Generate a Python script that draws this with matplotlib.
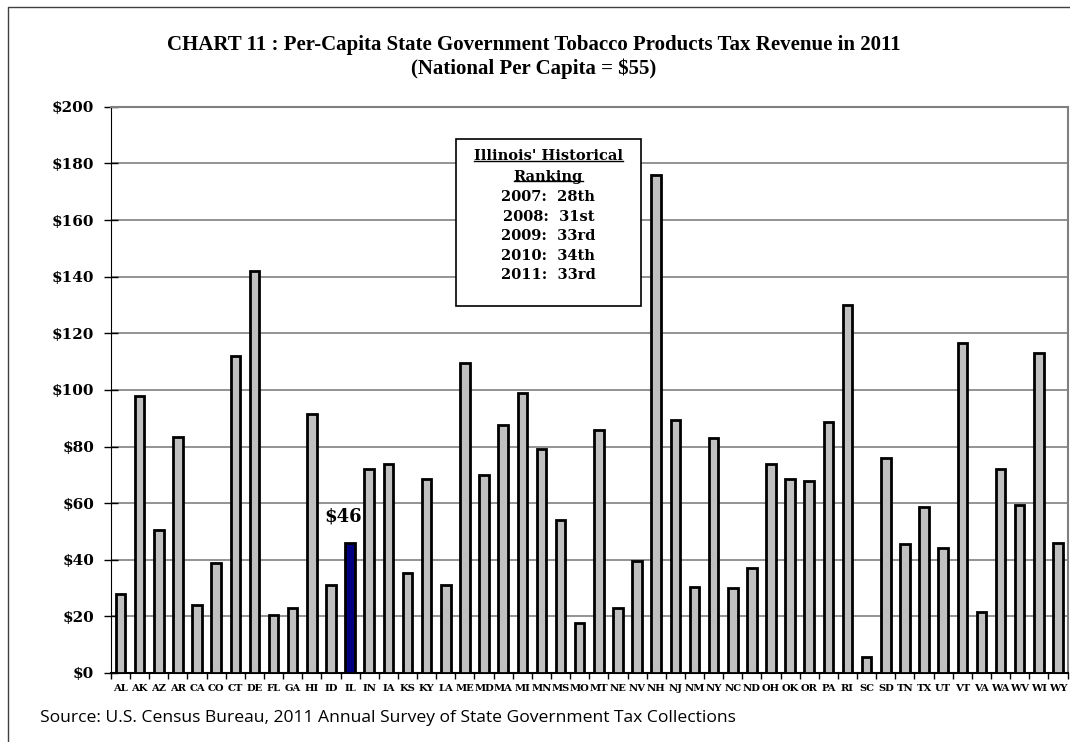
import numpy as np
import matplotlib.pyplot as plt
from matplotlib.lines import Line2D

states = ['AL', 'AK', 'AZ', 'AR', 'CA', 'CO', 'CT', 'DE', 'FL', 'GA', 'HI', 'ID', 'IL', 'IN', 'IA',
          'KS', 'KY', 'LA', 'ME', 'MD', 'MA', 'MI', 'MN', 'MS', 'MO', 'MT', 'NE', 'NV', 'NH', 'NJ',
          'NM', 'NY', 'NC', 'ND', 'OH', 'OK', 'OR', 'PA', 'RI', 'SC', 'SD', 'TN', 'TX', 'UT', 'VT',
          'VA', 'WA', 'WV', 'WI', 'WY']
per_capita = [28, 98, 50.5, 83.5, 24, 39, 112, 142, 20.5, 23, 91.5, 31, 46, 72, 74,
              35.5, 68.5, 31, 109.5, 70, 87.5, 99, 79, 54, 17.5, 86, 23, 39.5, 176, 89.5,
              30.5, 83, 30, 37, 74, 68.5, 68, 88.5, 130, 5.5, 76, 45.5, 58.5, 44, 116.5,
              21.5, 72, 59.5, 113, 46]
highlight = 'IL'
ranking_lines = ['2007:  28th', '2008:  31st', '2009:  33rd', '2010:  34th', '2011:  33rd']

serif = ['DejaVu Serif']
title_font = ['Liberation Serif', 'DejaVu Serif']

fig = plt.figure(figsize=(10.7, 7.42), dpi=100)
ax = fig.add_axes([0.1037, 0.093, 0.894, 0.763])

x = np.arange(len(states))
colors = ['#000080' if s == highlight else '#C0C0C0' for s in states]
ax.bar(x, per_capita, width=0.5, color=colors, edgecolor='black', linewidth=2, zorder=3)

ax.set_xlim(-0.5, len(states) - 0.5)
ax.set_ylim(0, 200)
ax.set_yticks(np.arange(0, 201, 20))
ax.set_yticklabels(['$%d' % v for v in range(0, 201, 20)], fontfamily=serif,
                   fontweight='bold', fontsize=11)
ax.yaxis.grid(True, color='#808080', linewidth=1.2, zorder=0)
ax.tick_params(axis='y', length=10, width=1, pad=7, direction='inout')

ax.set_xticks(x)
ax.set_xticklabels(states, fontfamily=serif, fontweight='bold', fontsize=7.2)
ax.set_xticks(np.arange(-0.5, len(states), 1), minor=True)
ax.tick_params(axis='x', which='major', length=0, pad=8)
ax.tick_params(axis='x', which='minor', length=4, width=1, direction='out')

for side in ['top', 'right']:
    ax.spines[side].set_color('#808080')
    ax.spines[side].set_linewidth(1.5)
ax.spines['left'].set_color('black')
ax.spines['bottom'].set_color('black')
ax.spines['bottom'].set_linewidth(1.5)

# label over Illinois
il = states.index(highlight)
ax.text(il - 0.37, per_capita[il] + 6, '$%d' % per_capita[il], ha='center', va='bottom',
        fontfamily=serif, fontweight='bold', fontsize=13, zorder=4)

fig.text(0.4985, 0.939, 'CHART 11 : Per-Capita State Government Tobacco Products Tax Revenue in 2011',
         ha='center', va='center', fontfamily=title_font, fontweight='bold', fontsize=15)
fig.text(0.4985, 0.907, '(National Per Capita = $55)', ha='center', va='center',
         fontfamily=title_font, fontweight='bold', fontsize=15)

fig.text(0.037, 0.032, 'Source: U.S. Census Bureau, 2011 Annual Survey of State Government Tax Collections',
         ha='left', va='center', fontfamily=['Open Sans', 'DejaVu Sans'], fontsize=12.6)

# ranking box
box = plt.Rectangle((0.426, 0.588), 0.173, 0.224, transform=fig.transFigure,
                    facecolor='white', edgecolor='black', linewidth=1.2, zorder=5)
fig.add_artist(box)
header = []
header.append(fig.text(0.5125, 0.79, "Illinois' Historical", ha='center', va='center',
                       fontfamily=serif, fontweight='bold', fontsize=10.5, zorder=6))
header.append(fig.text(0.5125, 0.762, 'Ranking', ha='center', va='center',
                       fontfamily=serif, fontweight='bold', fontsize=10.5, zorder=6))
for i, line in enumerate(ranking_lines):
    fig.text(0.5125, 0.734 - i * 0.0262, line, ha='center', va='center',
             fontfamily=serif, fontweight='bold', fontsize=10.5, zorder=6)

fig.canvas.draw()
r = fig.canvas.get_renderer()
for t in header:
    bb = t.get_window_extent(r).transformed(fig.transFigure.inverted())
    fig.add_artist(Line2D([bb.x0, bb.x1], [bb.y0 + 0.003, bb.y0 + 0.003], color='black',
                          linewidth=1, transform=fig.transFigure, zorder=6))

# chart area border (top and left visible)
fig.add_artist(Line2D([0.0075, 0.0075, 1.0], [0.0, 0.9906, 0.9906], color='#404040',
                      linewidth=1, transform=fig.transFigure))

fig.savefig('out.png', dpi=100)
